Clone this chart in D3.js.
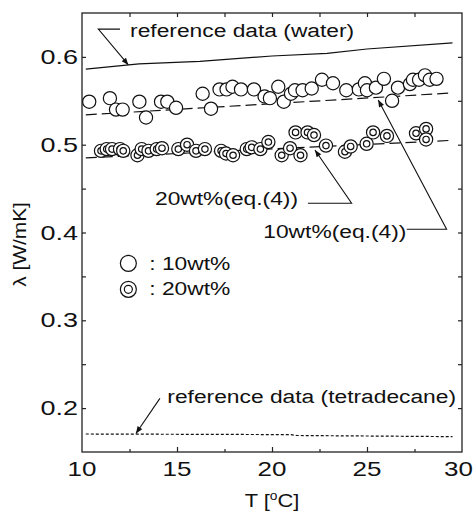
<!DOCTYPE html>
<html>
<head>
<meta charset="utf-8">
<script src="https://cdn.jsdelivr.net/npm/d3@7"></script>
<style>
  body { margin: 0; background: #fff; }
  svg { display: block; font-family: "Liberation Sans", Arial, sans-serif; }
</style>
</head>
<body>
<svg id="chart" width="474" height="512"></svg>
<script>
// measured points, T [°C] and lambda [W/mK]
const t10 = [10.38, 11.47, 11.79, 12.14, 13.02, 13.37, 14.16, 14.49, 14.95, 16.35, 16.79, 17.24, 17.61, 17.92, 18.37,
  19.05, 19.61, 19.89, 20.33, 20.62, 21.0, 21.21, 21.61, 22.09, 22.63, 23.21, 23.91, 24.57, 24.89, 25.0,
  25.47, 25.89, 26.32, 26.63, 27.26, 27.42, 27.74, 28.05, 28.3, 28.66];
const lam10 = [0.549, 0.553, 0.540, 0.540, 0.549, 0.531, 0.549, 0.549, 0.542, 0.558, 0.541, 0.563, 0.563, 0.566, 0.563,
  0.563, 0.555, 0.553, 0.566, 0.549, 0.558, 0.562, 0.562, 0.564, 0.574, 0.570, 0.562, 0.563, 0.570, 0.562,
  0.565, 0.575, 0.550, 0.565, 0.569, 0.574, 0.574, 0.579, 0.574, 0.575];

const t20 = [11.0, 11.3, 11.58, 12.0, 12.17, 12.92, 13.14, 13.5, 13.93, 14.21, 15.07, 15.53, 16.0, 16.47, 17.32,
  17.58, 17.95, 18.67, 18.93, 19.39, 19.81, 20.51, 20.95, 21.5, 21.24, 21.87, 22.21, 22.84, 23.84, 24.14,
  24.98, 25.32, 26.05, 27.58, 28.11, 28.11];
const lam20 = [0.493, 0.495, 0.495, 0.495, 0.493, 0.488, 0.495, 0.493, 0.495, 0.496, 0.495, 0.500, 0.493, 0.495, 0.493,
  0.490, 0.488, 0.495, 0.497, 0.495, 0.503, 0.488, 0.496, 0.488, 0.514, 0.514, 0.511, 0.499, 0.492, 0.498,
  0.501, 0.514, 0.510, 0.513, 0.518, 0.506];

// reference / model curves
const waterT = [10.2, 13, 16.2, 20, 22.9, 25, 29.5];
const waterLam = [0.586, 0.592, 0.595, 0.601, 0.604, 0.609, 0.616];
const eq10T = [10.2, 29.5];
const eq10Lam = [0.534, 0.559];
const eq20T = [10.2, 29.5];
const eq20Lam = [0.485, 0.505];
const tetraT = [10.2, 21.0, 21.3, 29.5];
const tetraLam = [0.1705, 0.1698, 0.1688, 0.1675];

const xTicks = [10, 15, 20, 25, 30];
const yTicks = [0.2, 0.3, 0.4, 0.5, 0.6];

const margin = {top: 13, right: 12, bottom: 60, left: 82};
const width = 474 - margin.left - margin.right,
  height = 512 - margin.top - margin.bottom;

const svg = d3.select("#chart");
const g = svg.append("g").attr("transform", "translate(" + margin.left + "," + margin.top + ")");

const x = d3.scaleLinear().domain([10, 30]).range([0, width]);
const y = d3.scaleLinear().domain([0.15, 0.65]).range([height, 0]);

const defs = svg.append("defs");
defs.append("marker")
  .attr("id", "arrow")
  .attr("viewBox", "0 -5 10 10")
  .attr("refX", 10).attr("refY", 0)
  .attr("markerWidth", 9).attr("markerHeight", 7)
  .attr("markerUnits", "userSpaceOnUse")
  .attr("orient", "auto")
.append("path")
  .attr("d", "M0,-4L10,0L0,4Z")
  .attr("fill", "#111");

// frame
g.append("rect")
  .attr("width", width).attr("height", height)
  .attr("fill", "none").attr("stroke", "#222").attr("stroke-width", 1.3);

// inward ticks on all four sides
const minorX = [12.5, 17.5, 22.5, 27.5], minorY = [0.25, 0.35, 0.45, 0.55];
const tickSets = [
  [d3.axisBottom(x), "translate(0," + height + ")", xTicks.slice(1, -1), 5],
  [d3.axisBottom(x), "translate(0," + height + ")", minorX, 3],
  [d3.axisTop(x), "translate(0,0)", xTicks.slice(1, -1), 4],
  [d3.axisTop(x), "translate(0,0)", minorX, 4],
  [d3.axisLeft(y), "translate(0,0)", yTicks, 4],
  [d3.axisLeft(y), "translate(0,0)", minorY, 4],
  [d3.axisRight(y), "translate(" + width + ",0)", yTicks, 4],
  [d3.axisRight(y), "translate(" + width + ",0)", minorY, 4]
];
tickSets.forEach(function(s) {
  s[0].tickValues(s[2]).tickSize(-s[3]).tickFormat("");
  const a = g.append("g").attr("transform", s[1]).call(s[0]);
  a.select(".domain").remove();
  a.selectAll("line").attr("stroke", "#222").attr("stroke-width", 1.2);
});

// the source figure's lettering is wider than Arial, so stretch it a bit
function stretched(px, py, size, sx, anchor) {
  return g.append("text")
    .attr("transform", "translate(" + px + "," + py + ") scale(" + sx + ",1)")
    .attr("text-anchor", anchor || "start")
    .attr("font-size", size).attr("fill", "#111");
}

// tick labels (last one pulled in so it stays inside the page)
const xHalf = 20 * 1.112 * 1.3 / 2;
xTicks.forEach(function(d) {
  stretched(Math.min(x(d), width + margin.right - xHalf - 1), height + 24, 20, 1.3, "middle").text(d);
});
yTicks.forEach(function(d) {
  stretched(-4, y(d) + 7, 20, 1.35, "end").text(d.toFixed(1));
});

// axis titles
stretched(x(20), height + 55, 19, 1.15, "middle")
  .html("T [<tspan font-size='12' dy='-7'>o</tspan><tspan dy='7'>C]</tspan>");
g.append("text")
  .attr("transform", "translate(" + (-56) + "," + (y(0.4) + 12) + ") rotate(-90) scale(1.1,1)")
  .attr("text-anchor", "middle").attr("font-size", 19).attr("fill", "#111")
  .text("λ [W/mK]");

// curves
const line = d3.line().x(d => x(d[0])).y(d => y(d[1]));
function curve(ts, ls, dash) {
  g.append("path")
    .datum(d3.zip(ts, ls))
    .attr("d", line)
    .attr("fill", "none").attr("stroke", "#111").attr("stroke-width", 1.2)
    .attr("stroke-dasharray", dash);
}
curve(waterT, waterLam, null);
curve(eq10T, eq10Lam, "11,5");
curve(eq20T, eq20Lam, "11,5");
curve(tetraT, tetraLam, "3,2");

// 10 wt% points: open circles
g.selectAll(".p10").data(d3.zip(t10, lam10)).enter().append("circle")
  .attr("cx", d => x(d[0])).attr("cy", d => y(d[1])).attr("r", 6.6)
  .attr("fill", "#fff").attr("stroke", "#111").attr("stroke-width", 1.2);

// 20 wt% points: double circles
const p20 = g.selectAll(".p20").data(d3.zip(t20, lam20)).enter().append("g")
  .attr("transform", d => "translate(" + x(d[0]) + "," + y(d[1]) + ")");
p20.append("circle").attr("r", 6.6)
  .attr("fill", "#fff").attr("stroke", "#111").attr("stroke-width", 1.2);
p20.append("circle").attr("r", 3.2)
  .attr("fill", "none").attr("stroke", "#111").attr("stroke-width", 1.2);

// annotations
function label(t, l, txt) {
  stretched(x(t), y(l), 19, 1.2).text(txt);
}
function leader(pts, arrow) {
  g.append("path")
    .datum(pts)
    .attr("d", line)
    .attr("fill", "none").attr("stroke", "#111").attr("stroke-width", 1.1)
    .attr("marker-end", arrow ? "url(#arrow)" : null);
}

label(12.53, 0.6228, "reference data (water)");
leader([[12.0, 0.6316], [10.86, 0.6316], [12.44, 0.5909]], true);

label(13.84, 0.4313, "20wt%(eq.(4))");
leader([[21.89, 0.4333], [24.19, 0.4333], [22.26, 0.494]], true);

label(19.54, 0.3937, "10wt%(eq.(4))");
leader([[27.09, 0.4037], [29.19, 0.4037], [25.59, 0.551]], true);

label(14.49, 0.2057, "reference data (tetradecane)");
leader([[14.1, 0.2111], [12.84, 0.1711]], true);

// legend
g.append("circle").attr("cx", x(12.44)).attr("cy", y(0.3649)).attr("r", 8)
  .attr("fill", "none").attr("stroke", "#111").attr("stroke-width", 1.2);
g.append("circle").attr("cx", x(12.44)).attr("cy", y(0.3353)).attr("r", 8)
  .attr("fill", "none").attr("stroke", "#111").attr("stroke-width", 1.2);
g.append("circle").attr("cx", x(12.44)).attr("cy", y(0.3353)).attr("r", 4)
  .attr("fill", "none").attr("stroke", "#111").attr("stroke-width", 1.2);
label(13.54, 0.357, ": 10wt%");
label(13.54, 0.3288, ": 20wt%");
</script>
</body>
</html>
